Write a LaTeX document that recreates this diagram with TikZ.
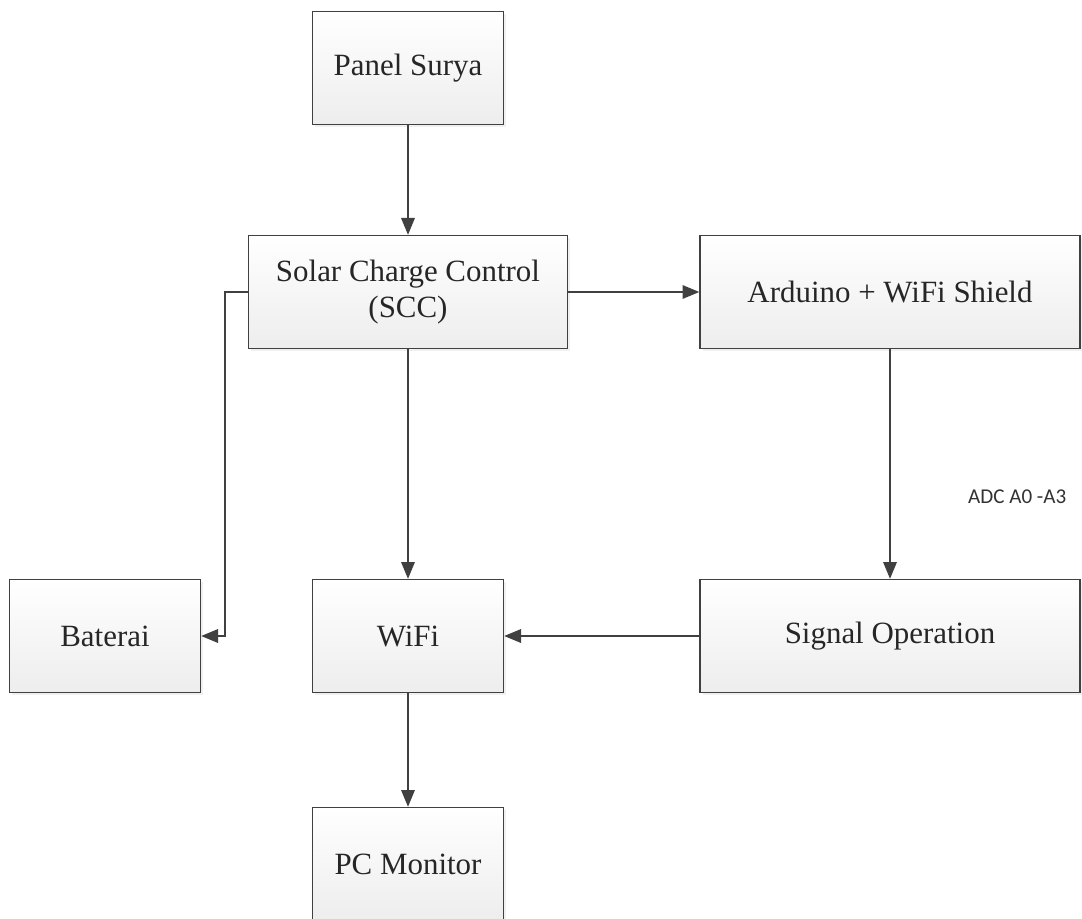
\documentclass[tikz,border=0pt]{standalone}
\usepackage{fontspec}
\setmainfont{Liberation Serif}
\newfontfamily\labelfont{Carlito}
\usetikzlibrary{positioning,calc,arrows.meta,shadows}

\begin{document}
\begin{tikzpicture}[
    blok/.style={rectangle, draw=black!75, line width=1pt, top color=white, bottom color=black!7,
        drop shadow={shadow xshift=2pt, shadow yshift=-2pt, opacity=0.12},
        minimum width=4.775cm, minimum height=2.825cm, align=center,
        text=black!85, font=\fontsize{22}{26}\selectfont},
    blokwide/.style={blok, minimum width=9.5cm},
    panah/.style={draw=black!75, line width=1pt, -{Triangle[length=0.42cm, width=0.34cm]}}]
    \useasboundingbox (0,0) rectangle (27.05,-22.95);

    \node [blok] (panel) at (10.2,-1.7) {Panel Surya};
    \node [blok, minimum width=7.975cm] (scc) at (10.2,-7.3) {Solar Charge Control\\(SCC)};
    \node [blokwide] (arduino) at (22.25,-7.3) {Arduino + WiFi Shield};
    \node [blok] (baterai) at (2.625,-15.9) {Baterai};
    \node [blok] (wifi) at (10.2,-15.9) {WiFi};
    \node [blokwide] (signal) at (22.25,-15.9) {Signal Operation};
    \node [blok] (pc) at (10.2,-21.6) {PC Monitor};
    \node [font=\labelfont\fontsize{15}{18}\selectfont, text=black!80] (adc) at (25.43,-12.43) {ADC A0 -A3};

    \coordinate (belok) at (5.625,-7.3);

    \draw [panah] (panel) -- (scc);
    \draw [panah] (scc) -- (arduino);
    \draw [panah] (scc.west) -- (belok) |- (baterai.east);
    \draw [panah] (scc) -- (wifi);
    \draw [panah] (arduino) -- (signal);
    \draw [panah] (signal) -- (wifi);
    \draw [panah] (wifi) -- (pc);
\end{tikzpicture}
\end{document}
